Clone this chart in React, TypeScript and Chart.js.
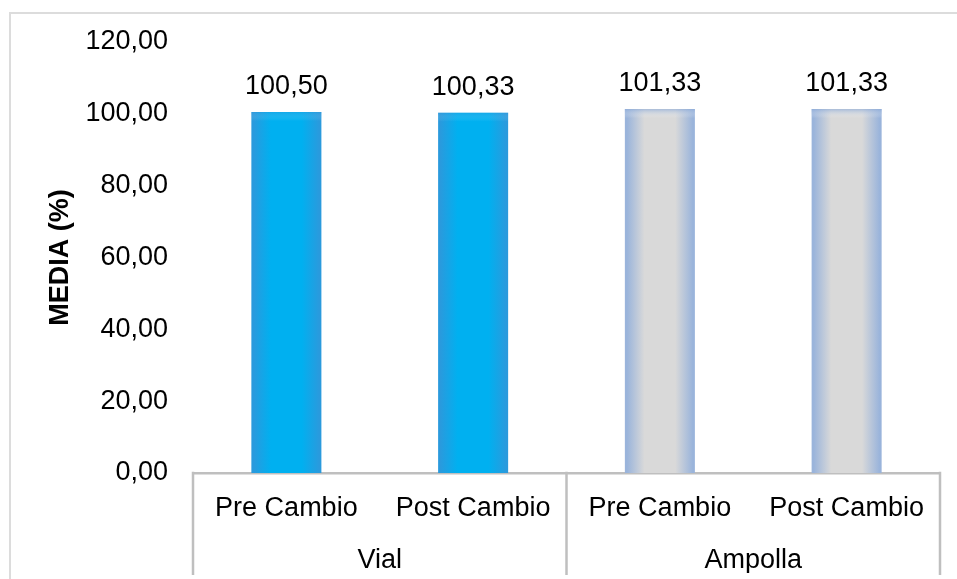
import React, { useEffect, useRef } from "react";
import { Chart, registerables } from "chart.js";

Chart.register(...registerables);

// ---- data ----
const subLabels = ["Pre Cambio", "Post Cambio", "Pre Cambio", "Post Cambio"];
const groupLabels = ["Vial", "Ampolla"];
const mediaValues = [100.5, 100.33, 101.33, 101.33];
const groupOfBar = [0, 0, 1, 1];
const yMin = 0;
const yMax = 120;
const yStep = 20;
const yAxisTitle = "MEDIA (%)";

// ---- styles ----
const FONT = "'Liberation Sans', Arial, Helvetica, sans-serif";
const FONT_SIZE = 27;
const BAR_PCT = 0.375;
const palettes = [
  { edge: "#2A9ADD", center: "#00B0F0", glow: "rgba(60,150,215,0.3)" },
  { edge: "#9AB4DB", center: "#D9D9D9", glow: "rgba(140,170,215,0.65)" },
];
const LINE_COLOR = "#BFBFBF";

const fmt = (v: number) => v.toFixed(2).replace(".", ",");

const barGradient = (ctx: any) => {
  const chart = ctx.chart;
  const idx = ctx.dataIndex ?? 0;
  const pal = palettes[groupOfBar[idx] ?? 0];
  const x = chart.scales?.x;
  if (!x || !chart.chartArea || x.width <= 0) return pal.center;
  const cx = x.getPixelForValue(idx);
  const half = ((x.width / subLabels.length) * BAR_PCT) / 2;
  const g = chart.ctx.createLinearGradient(cx - half, 0, cx + half, 0);
  g.addColorStop(0, pal.edge);
  g.addColorStop(0.03, pal.edge);
  g.addColorStop(0.28, pal.center);
  g.addColorStop(0.72, pal.center);
  g.addColorStop(0.97, pal.edge);
  g.addColorStop(1, pal.edge);
  return g;
};

const decorPlugin = {
  id: "decor",
  afterDatasetsDraw(chart: any) {
    const ctx = chart.ctx;
    const meta = chart.getDatasetMeta(0);
    const data = chart.data.datasets[0].data as number[];
    meta.data.forEach((el: any, i: number) => {
      const { x, y, width } = el.getProps(["x", "y", "width"], true);
      const pal = palettes[groupOfBar[i] ?? 0];
      const g = ctx.createLinearGradient(0, y, 0, y + 9);
      g.addColorStop(0, pal.glow);
      g.addColorStop(1, "rgba(255,255,255,0)");
      ctx.save();
      ctx.fillStyle = g;
      ctx.fillRect(x - width / 2, y, width, 9);
      ctx.restore();
      ctx.save();
      ctx.font = `${FONT_SIZE}px ${FONT}`;
      ctx.fillStyle = "#000";
      ctx.textAlign = "center";
      ctx.textBaseline = "alphabetic";
      ctx.fillText(fmt(data[i]), x, y - 18);
      ctx.restore();
    });
  },
  afterDraw(chart: any) {
    const ctx = chart.ctx;
    const x2 = chart.scales.x2;
    const top = chart.chartArea.bottom;
    const bottom = chart.height - 4;
    const mids: number[] = [];
    for (let i = 0; i < groupLabels.length - 1; i++) {
      mids.push((x2.getPixelForValue(i) + x2.getPixelForValue(i + 1)) / 2);
    }
    const xs = [x2.left, ...mids, x2.right];
    ctx.save();
    ctx.strokeStyle = LINE_COLOR;
    ctx.lineWidth = 2.5;
    xs.forEach((px) => {
      ctx.beginPath();
      ctx.moveTo(px, top - 1.25);
      ctx.lineTo(px, bottom);
      ctx.stroke();
    });
    ctx.restore();
  },
};

const tickFont = { family: FONT, size: FONT_SIZE };

export default function App() {
  const ref = useRef<HTMLCanvasElement>(null);

  useEffect(() => {
    const canvas = ref.current;
    if (!canvas) return;
    const chart = new Chart(canvas, {
      type: "bar",
      data: {
        labels: subLabels,
        datasets: [
          {
            data: mediaValues,
            backgroundColor: barGradient as any,
            borderWidth: 0,
            barPercentage: BAR_PCT,
            categoryPercentage: 1,
            xAxisID: "x",
          },
        ],
      },
      options: {
        responsive: false,
        animation: false,
        layout: { padding: { top: 42, right: 17, bottom: 6, left: 0 } },
        plugins: {
          legend: { display: false },
          tooltip: { enabled: false },
        },
        scales: {
          y: {
            min: yMin,
            max: yMax,
            ticks: {
              stepSize: yStep,
              callback: (v: any) => fmt(Number(v)),
              font: tickFont,
              color: "#000",
              padding: 25,
            },
            grid: { display: false, drawTicks: false },
            border: { display: false },
            title: {
              display: true,
              text: yAxisTitle,
              font: { family: FONT, size: FONT_SIZE, weight: "bold" },
              color: "#000",
              padding: { top: 44, bottom: 4 },
            },
            afterFit: (s: any) => {
              s.width = 193;
            },
          },
          x: {
            type: "category",
            position: "bottom",
            weight: 0,
            offset: true,
            grid: { display: false, drawTicks: false },
            border: { display: true, color: LINE_COLOR, width: 2.5 },
            ticks: {
              font: tickFont,
              color: "#000",
              padding: 19,
              autoSkip: false,
              maxRotation: 0,
            },
            afterFit: (s: any) => {
              s.height = 50;
            },
          },
          x2: {
            type: "category",
            labels: groupLabels,
            position: "bottom",
            weight: 1,
            offset: true,
            grid: { display: false, drawTicks: false },
            border: { display: false },
            ticks: {
              font: tickFont,
              color: "#000",
              padding: 21,
              autoSkip: false,
              maxRotation: 0,
            },
            afterFit: (s: any) => {
              s.height = 50;
            },
          },
        },
      } as any,
      plugins: [decorPlugin],
    });
    return () => chart.destroy();
  }, []);

  return (
    <div
      style={{
        position: "fixed",
        left: 0,
        top: 0,
        width: 957,
        height: 579,
        overflow: "hidden",
        background: "#fff",
      }}
    >
      <div
        style={{
          position: "absolute",
          left: 9,
          top: 12,
          width: 2000,
          height: 2000,
          borderLeft: "2px solid #DCDCDC",
          borderTop: "2px solid #DCDCDC",
        }}
      />
      <canvas
        ref={ref}
        width={957}
        height={579}
        style={{ position: "absolute", left: 0, top: 0, width: 957, height: 579 }}
      />
    </div>
  );
}
